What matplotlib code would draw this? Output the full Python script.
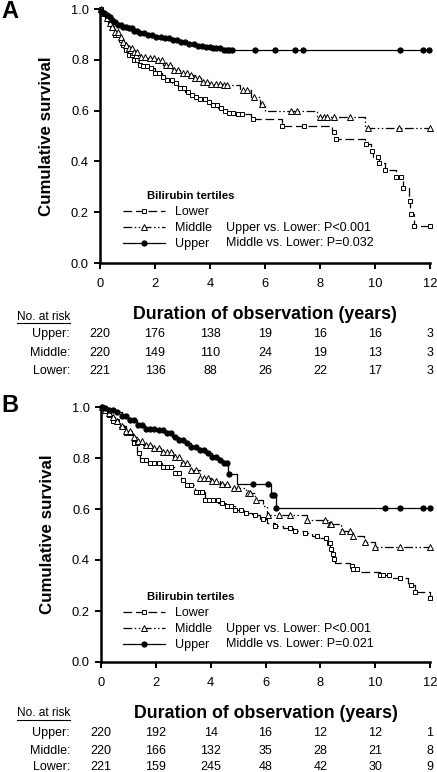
import numpy as np
import matplotlib
matplotlib.use("Agg")
import matplotlib.pyplot as plt
from matplotlib.lines import Line2D
from matplotlib import transforms

plt.rcParams['font.family'] = ['Liberation Sans', 'DejaVu Sans']

# ---------------- Panel A data ----------------
A_upper_t = [0, 0.05, 0.12, 0.2, 0.3, 0.43, 0.55, 0.65, 0.8, 1.0, 1.2, 1.45, 1.7, 2.0, 2.3, 2.6, 2.9, 3.2, 3.5, 3.8, 4.1, 4.45]
A_upper_s = [1.0, 0.993, 0.985, 0.976, 0.967, 0.957, 0.947, 0.937, 0.93, 0.924, 0.915, 0.907, 0.898, 0.891, 0.884, 0.877, 0.871, 0.864, 0.855, 0.85, 0.845, 0.838]
A_upper_c = [0.05, 0.15, 0.25, 0.35, 0.45, 0.55, 0.65, 0.75, 0.85, 0.95, 1.05, 1.15, 1.25, 1.35, 1.45, 1.6, 1.75, 1.9, 2.05, 2.2, 2.35, 2.5, 2.65, 2.8, 2.95, 3.1, 3.25, 3.4, 3.55, 3.7, 3.85, 4.0, 4.1, 4.2, 4.35, 4.5, 4.6, 4.7, 4.8, 5.65, 6.35, 7.08, 7.37, 10.9, 11.74, 11.97]

A_middle_t = [0, 0.08, 0.18, 0.3, 0.42, 0.55, 0.68, 0.8, 0.92, 1.03, 1.2, 1.39, 1.7, 2.0, 2.3, 2.6, 2.9, 3.2, 3.45, 3.7, 4.05, 4.45, 5.1, 5.5, 5.8, 6.0, 7.9, 9.65]
A_middle_s = [1.0, 0.985, 0.964, 0.945, 0.928, 0.91, 0.89, 0.871, 0.858, 0.846, 0.83, 0.812, 0.806, 0.8, 0.78, 0.76, 0.75, 0.74, 0.727, 0.714, 0.706, 0.70, 0.68, 0.655, 0.627, 0.60, 0.573, 0.53]
A_middle_c = [0.05, 0.15, 0.25, 0.35, 0.45, 0.55, 0.65, 0.75, 0.85, 0.95, 1.05, 1.15, 1.25, 1.35, 1.5, 1.65, 1.8, 1.95, 2.1, 2.25, 2.4, 2.55, 2.7, 2.85, 3.0, 3.15, 3.3, 3.45, 3.6, 3.75, 3.9, 4.05, 4.2, 4.35, 4.5, 4.6, 5.2, 5.35, 5.6, 5.9, 6.93, 7.18, 8.0, 8.15, 8.25, 8.5, 9.08, 9.75, 10.88, 12.0]

A_lower_t = [0, 0.08, 0.18, 0.3, 0.42, 0.55, 0.68, 0.8, 0.92, 1.03, 1.2, 1.39, 1.55, 1.75, 2.0, 2.26, 2.45, 2.62, 2.85, 3.1, 3.3, 3.46, 3.65, 3.83, 4.05, 4.3, 4.5, 4.67, 4.9, 5.5, 6.6, 8.45, 8.55, 9.65, 9.87, 9.93, 10.13, 10.35, 10.75, 11.0, 11.25, 11.28, 11.42]
A_lower_s = [1.0, 0.985, 0.965, 0.945, 0.925, 0.898, 0.878, 0.858, 0.838, 0.819, 0.8, 0.78, 0.775, 0.768, 0.75, 0.732, 0.72, 0.709, 0.69, 0.673, 0.663, 0.655, 0.645, 0.634, 0.622, 0.61, 0.6, 0.59, 0.585, 0.565, 0.54, 0.515, 0.49, 0.467, 0.442, 0.418, 0.393, 0.366, 0.34, 0.295, 0.243, 0.193, 0.145]
A_lower_c = [0.05, 0.15, 0.25, 0.35, 0.45, 0.55, 0.65, 0.75, 0.85, 0.95, 1.05, 1.15, 1.25, 1.35, 1.45, 1.55, 1.7, 1.85, 2.0, 2.15, 2.3, 2.45, 2.6, 2.75, 2.9, 3.05, 3.2, 3.35, 3.5, 3.65, 3.8, 3.95, 4.1, 4.25, 4.4, 4.55, 4.7, 4.85, 5.0, 5.15, 5.58, 6.6, 7.4, 8.5, 8.57, 9.67, 9.88, 10.1, 10.15, 10.35, 10.76, 10.94, 11.0, 11.27, 11.3, 11.42, 12.0]

# ---------------- Panel B data ----------------
B_upper_t = [0, 0.1, 0.25, 0.51, 0.75, 0.99, 1.3, 1.6, 2.08, 2.35, 2.6, 2.85, 3.06, 3.3, 3.54, 3.8, 4.05, 4.3, 4.45, 4.65, 4.95, 6.2, 6.38]
B_upper_s = [1.0, 0.996, 0.99, 0.982, 0.965, 0.949, 0.93, 0.914, 0.91, 0.897, 0.884, 0.87, 0.858, 0.844, 0.83, 0.818, 0.805, 0.792, 0.78, 0.737, 0.698, 0.655, 0.604]
B_upper_c = [0.05, 0.15, 0.3, 0.45, 0.6, 0.75, 0.9, 1.05, 1.2, 1.35, 1.5, 1.65, 1.8, 1.95, 2.1, 2.25, 2.4, 2.55, 2.7, 2.85, 3.0, 3.15, 3.3, 3.45, 3.6, 3.75, 3.9, 4.05, 4.2, 4.35, 4.5, 4.6, 4.67, 5.55, 6.1, 6.25, 6.32, 6.4, 10.36, 10.9, 11.75, 12.0]

B_middle_t = [0, 0.1, 0.22, 0.35, 0.5, 0.7, 0.9, 1.17, 1.35, 1.53, 1.9, 2.2, 2.63, 2.9, 3.25, 3.6, 4.0, 4.34, 4.7, 5.3, 5.6, 5.9, 6.05, 7.5, 8.3, 8.75, 9.2, 9.6, 10.0]
B_middle_s = [1.0, 0.99, 0.976, 0.96, 0.945, 0.925, 0.905, 0.884, 0.865, 0.85, 0.84, 0.825, 0.805, 0.78, 0.753, 0.72, 0.71, 0.70, 0.682, 0.663, 0.635, 0.61, 0.576, 0.557, 0.54, 0.515, 0.494, 0.472, 0.45]
B_middle_c = [0.05, 0.15, 0.3, 0.45, 0.6, 0.75, 0.9, 1.05, 1.2, 1.35, 1.5, 1.65, 1.8, 1.95, 2.1, 2.25, 2.4, 2.55, 2.7, 2.85, 3.0, 3.15, 3.3, 3.45, 3.6, 3.75, 3.9, 4.05, 4.2, 4.4, 4.6, 4.85, 5.0, 5.35, 5.45, 5.65, 6.1, 6.5, 6.9, 7.5, 8.17, 8.35, 8.4, 8.78, 9.08, 9.2, 9.63, 10.0, 10.9, 12.0]

B_lower_t = [0, 0.1, 0.25, 0.45, 0.62, 0.88, 1.13, 1.31, 1.42, 1.71, 2.22, 2.7, 2.9, 3.06, 3.43, 3.79, 4.27, 4.6, 4.89, 5.2, 5.5, 5.8, 6.05, 6.35, 6.65, 7.0, 7.38, 7.7, 7.98, 8.3, 8.36, 8.42, 8.48, 8.55, 9.07, 9.2, 9.38, 10.17, 10.55, 11.2, 11.45, 12.0]
B_lower_s = [1.0, 0.985, 0.97, 0.945, 0.923, 0.898, 0.858, 0.82, 0.792, 0.78, 0.766, 0.74, 0.715, 0.694, 0.668, 0.635, 0.623, 0.61, 0.596, 0.586, 0.576, 0.56, 0.544, 0.535, 0.525, 0.515, 0.505, 0.495, 0.485, 0.465, 0.445, 0.425, 0.405, 0.388, 0.375, 0.365, 0.353, 0.341, 0.33, 0.302, 0.276, 0.251]
B_lower_c = [0.05, 0.15, 0.3, 0.45, 0.6, 0.75, 0.9, 1.05, 1.2, 1.3, 1.4, 1.5, 1.65, 1.8, 1.95, 2.1, 2.25, 2.4, 2.55, 2.7, 2.85, 3.0, 3.15, 3.3, 3.45, 3.6, 3.7, 3.8, 3.95, 4.1, 4.25, 4.4, 4.6, 4.75, 4.9, 5.1, 5.3, 5.6, 5.9, 6.35, 6.9, 7.08, 7.44, 7.88, 8.2, 8.3, 8.35, 8.4, 8.45, 8.5, 9.15, 9.2, 9.35, 10.17, 10.3, 10.5, 10.9, 11.3, 11.45, 12.0]

# ---------------- Labels / tables ----------------
groups = ["Lower", "Middle", "Upper"]
risk_times = [0, 2, 4, 6, 8, 10, 12]
risk_rows = ["Upper:", "Middle:", "Lower:"]
A_risk = {"Upper:": [220, 176, 138, 19, 16, 16, 3],
          "Middle:": [220, 149, 110, 24, 19, 13, 3],
          "Lower:": [221, 136, 88, 26, 22, 17, 3]}
B_risk = {"Upper:": [220, 192, 14, 16, 12, 12, 1],
          "Middle:": [220, 166, 132, 35, 28, 21, 8],
          "Lower:": [221, 159, 245, 48, 42, 30, 9]}
A_pvals = ["Upper vs. Lower: P<0.001", "Middle vs. Lower: P=0.032"]
B_pvals = ["Upper vs. Lower: P<0.001", "Middle vs. Lower: P=0.021"]

styles = {
    "Lower": dict(ls=(0, (7, 3)), marker='s', mfc='white', ms=3.3),
    "Middle": dict(ls=(0, (7, 2, 1.2, 2, 1.2, 2)), marker='^', mfc='white', ms=3.8),
    "Upper": dict(ls='-', marker='o', mfc='black', ms=3.8),
}

FS = 9.0
W, H = 437, 772
fig = plt.figure(figsize=(W / 100, H / 100), dpi=100)


def px_axes(l, r, t, b):
    return fig.add_axes([l / W, 1 - b / H, (r - l) / W, (b - t) / H])


def draw_panel(ax, curves, pvals, risk, ypx, letter):
    for name, (t, s, c) in curves.items():
        st = styles[name]
        tt = np.append(np.asarray(t, float), 12.0)
        ss = np.append(np.asarray(s, float), s[-1])
        ax.plot(tt, ss, drawstyle='steps-post', color='black', lw=0.9,
                ls=st['ls'], clip_on=False, zorder=2)
        c = np.asarray(c, float)
        idx = np.searchsorted(np.asarray(t, float), c, side='right') - 1
        cy = np.asarray(s, float)[idx]
        ax.plot(c, cy, ls='none', marker=st['marker'], mfc=st['mfc'],
                mec='black', mew=0.7, ms=st['ms'], clip_on=False, zorder=3)

    ax.set_xlim(0, 12)
    ax.set_ylim(0, 1.0)
    ax.set_xticks(risk_times)
    ax.set_yticks([0.0, 0.2, 0.4, 0.6, 0.8, 1.0])
    ax.set_yticklabels(["0.0", "0.2", "0.4", "0.6", "0.8", "1.0"])
    for sp in ['top', 'right']:
        ax.spines[sp].set_visible(False)
    for sp in ['left', 'bottom']:
        ax.spines[sp].set_linewidth(1.8)
    ax.tick_params(axis='both', direction='out', length=4, width=1.4,
                   labelsize=FS + 0.3, pad=4)
    ax.tick_params(axis='x', pad=7)
    ax.set_ylabel("Cumulative survival", fontsize=12.2, fontweight='bold', labelpad=12)
    ax.set_xlabel("Duration of observation (years)", fontsize=12.8,
                  fontweight='bold', labelpad=11)

    handles = []
    for name in groups:
        st = styles[name]
        handles.append(Line2D([], [], color='black', lw=0.9, ls=st['ls'],
                              marker=st['marker'], mfc=st['mfc'], mec='black',
                              mew=0.7, ms=st['ms']))
    ax.legend(handles, groups, loc='upper left', frameon=False,
              bbox_to_anchor=(123 / W, 1 - (ypx['leg'] - 7) / H),
              bbox_transform=fig.transFigure, fontsize=FS,
              handlelength=3.35, handletextpad=0.8, labelspacing=0.32,
              borderpad=0, borderaxespad=0, numpoints=1)
    fig.text(147 / W, 1 - ypx['title'] / H, "Bilirubin tertiles", fontsize=8.2,
             fontweight='bold', va='center', ha='left')
    for i, ptxt in enumerate(pvals):
        fig.text(226 / W, 1 - (ypx['leg'] + 15 * (i + 1)) / H, ptxt, fontsize=FS,
                 va='center', ha='left')

    tr = transforms.blended_transform_factory(ax.transData, fig.transFigure)
    fig.text(17 / W, 1 - ypx['nar'] / H, "No. at risk", fontsize=8.6,
             va='center', ha='left')
    fig.add_artist(Line2D([17 / W, 70 / W], [1 - (ypx['nar'] + 6.5) / H] * 2,
                          color='black', lw=0.8))
    for j, row in enumerate(risk_rows):
        yy = 1 - ypx['rows'][j] / H
        fig.text(70 / W, yy, row, fontsize=FS, va='center', ha='right')
        for tx, n in zip(risk_times, risk[row]):
            ax.text(tx, yy, str(n), transform=tr, fontsize=FS, va='center',
                    ha='center', clip_on=False)

    fig.text(1 / W, 1 - ypx['letter'] / H, letter, fontsize=17, fontweight='bold',
             va='center', ha='left')


axA = px_axes(100, 430, 9, 263)
draw_panel(axA,
           {"Lower": (A_lower_t, A_lower_s, A_lower_c),
            "Middle": (A_middle_t, A_middle_s, A_middle_c),
            "Upper": (A_upper_t, A_upper_s, A_upper_c)},
           A_pvals, A_risk,
           dict(leg=213, title=196, nar=317, rows=[334, 353, 371], letter=12), "A")

axB = px_axes(101, 430, 407, 662)
draw_panel(axB,
           {"Lower": (B_lower_t, B_lower_s, B_lower_c),
            "Middle": (B_middle_t, B_middle_s, B_middle_c),
            "Upper": (B_upper_t, B_upper_s, B_upper_c)},
           B_pvals, B_risk,
           dict(leg=614, title=597, nar=713, rows=[733, 751, 767], letter=405), "B")

fig.savefig("out.png", dpi=100)
